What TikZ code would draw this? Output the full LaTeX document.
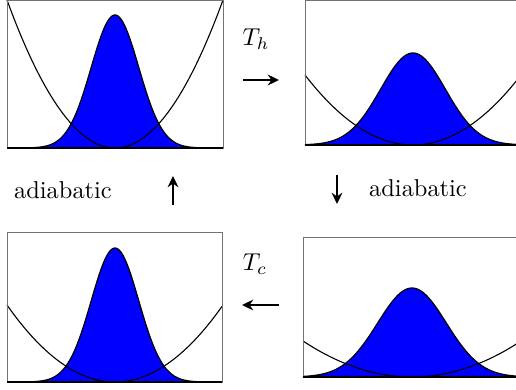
\documentclass[tikz,border=0pt]{standalone}
\usepackage{tikz}
\usetikzlibrary{arrows.meta}

\tikzset{
	frameline/.style={black!55, line width=0.4pt},
	baseline/.style={black, line width=0.8pt},
	density/.style={fill=blue, draw=black, line width=0.5pt},
	potential/.style={black, line width=0.45pt},
	cyclearrow/.style={line width=1.05pt, -{Stealth[length=4.6pt, width=4.4pt]}}
}

\begin{document}
\begin{tikzpicture}[x=0.41pt, y=-0.41pt]
	\useasboundingbox (0, 0) rectangle (516, 390);
	\clip (0, 0) rectangle (516, 390);
	% top left
	\fill [density, domain=7:223, samples=120, smooth] plot ({\x}, {148 - 133*exp(-((\x-115)/108)*((\x-115)/108)/(2*0.22*0.22))}) -- cycle;
	\draw [potential, domain=7:223, samples=80, smooth] plot ({\x}, {148 - 148*((\x-115)/108)*((\x-115)/108)});
	\draw [frameline] (7, 0.5) rectangle (223, 148);
	\draw [baseline] (7, 148) -- (223, 148);
	% top right
	\fill [density, domain=305:521, samples=120, smooth] plot ({\x}, {145 - 92*exp(-((\x-413)/108)*((\x-413)/108)/(2*0.3*0.3))}) -- cycle;
	\draw [potential, domain=305:521, samples=80, smooth] plot ({\x}, {145 - 70*((\x-413)/108)*((\x-413)/108)});
	\draw [frameline] (305, 0.5) rectangle (521, 145);
	\draw [baseline] (305, 145) -- (521, 145);
	% bottom left
	\fill [density, domain=7:222, samples=120, smooth] plot ({\x}, {382 - 134*exp(-((\x-115)/108)*((\x-115)/108)/(2*0.22*0.22))}) -- cycle;
	\draw [potential, domain=7:222, samples=80, smooth] plot ({\x}, {382 - 77*((\x-115)/108)*((\x-115)/108)});
	\draw [frameline] (7, 232) rectangle (222, 382);
	\draw [baseline] (7, 382) -- (222, 382);
	% bottom right
	\fill [density, domain=303:521, samples=120, smooth] plot ({\x}, {377 - 89*exp(-((\x-412)/109)*((\x-412)/109)/(2*0.315*0.315))}) -- cycle;
	\draw [potential, domain=303:521, samples=80, smooth] plot ({\x}, {377 - 36*((\x-412)/109)*((\x-412)/109)});
	\draw [frameline] (303, 237) rectangle (521, 377);
	\draw [baseline] (303, 377) -- (521, 377);
	% strokes of the cycle
	\node (hotlabel) at (256, 39) {$T_h$};
	\coordinate (hotstart) at (243, 80);
	\coordinate (hotend) at (279, 80);
	\draw [cyclearrow] (hotstart) -- (hotend);
	\node (coldlabel) at (255, 264) {$T_c$};
	\coordinate (coldstart) at (279, 305);
	\coordinate (coldend) at (242, 305);
	\draw [cyclearrow] (coldstart) -- (coldend);
	\node (leftlabel) at (63, 190) {adiabatic};
	\coordinate (upstart) at (173, 205);
	\coordinate (upend) at (173, 176);
	\draw [cyclearrow] (upstart) -- (upend);
	\node (rightlabel) at (418, 188) {adiabatic};
	\coordinate (downstart) at (337, 175);
	\coordinate (downend) at (337, 204);
	\draw [cyclearrow] (downstart) -- (downend);
\end{tikzpicture}
\end{document}
